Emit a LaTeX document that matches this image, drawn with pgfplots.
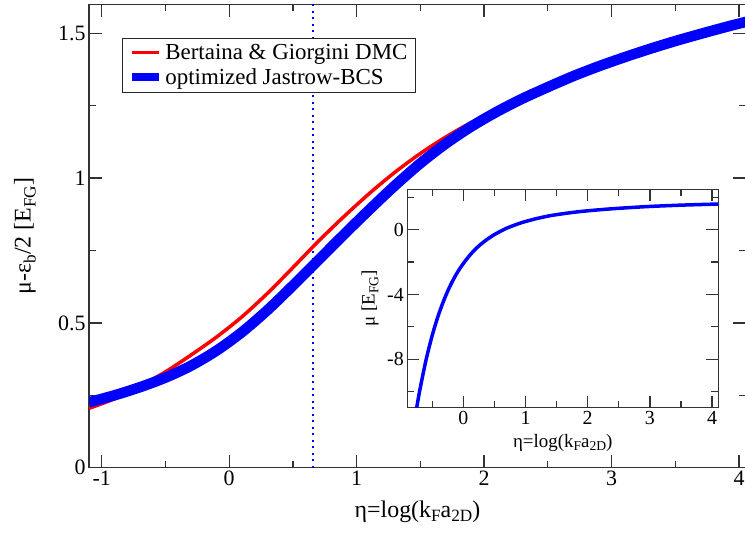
\documentclass[border=0pt]{standalone}
\usepackage{fontspec}
\setmainfont{Liberation Serif}
\usepackage{graphicx}
\usepackage{pgfplots}
\pgfplotsset{compat=1.18}
\newcommand{\sub}[1]{\raisebox{-0.45ex}{\scalebox{0.72}{#1}}}
\begin{document}
\begin{tikzpicture}
\useasboundingbox (0,0) rectangle (745bp,541bp);
\begin{axis}[
  at={(89bp,73.3bp)}, anchor=south west,
  scale only axis, width=657bp, height=463.4bp,
  xmin=-1.1, xmax=4.055, ymin=0, ymax=1.6,
  xtick={-1,0,1,2,3,4}, ytick={0,0.5,1,1.5},
  minor xtick={-0.5,0.5,1.5,2.5,3.5}, minor ytick={0.25,0.75,1.25},
  major tick length=13bp, minor tick length=7bp,
  tick align=inside,
  axis line style={black!80, line width=1.3bp},
  every tick/.style={black!80, line width=1.3bp},
  /pgf/number format/assume math mode=true,
  ticklabel style={font=\fontsize{22}{26}\selectfont},
  xlabel={η=log(k\sub{F}a\sub{2D})},
  ylabel={μ-ε\sub{b}/2 [E\sub{FG}]},
  every axis x label/.style={at={(axis description cs:0.5,-0.1064)}, anchor=base, font=\fontsize{24}{28}\selectfont},
  every axis y label/.style={at={(axis description cs:-0.0974,0.5)}, rotate=90, anchor=center, font=\fontsize{24}{28}\selectfont},
  legend style={at={(axis description cs:0.0502,0.928)}, anchor=north west,
    draw=black!85, line width=0.8bp, font=\fontsize{23}{27}\selectfont,
    inner xsep=6bp, inner ysep=4bp, row sep=4bp},
  legend cell align=left,
]
\addplot[blue, line width=2bp, dash pattern=on 2bp off 4.5bp, forget plot] coordinates {(0.656,0) (0.656,1.6)};
\addplot[red, line width=3.5bp, smooth, legend image code/.code={\draw[red, line width=3.5bp] (0bp,0bp) -- (27bp,0bp);}] coordinates {
(-1.10,0.205) (-0.90,0.238) (-0.70,0.282) (-0.50,0.331) (-0.30,0.389) (-0.10,0.451)
(0.10,0.521) (0.30,0.602) (0.50,0.691) (0.70,0.782) (0.90,0.867) (1.10,0.947)
(1.30,1.020) (1.50,1.085) (1.70,1.142) (1.90,1.192) (2.10,1.233) (2.30,1.272)
(2.50,1.309) (2.70,1.346) (2.90,1.379) (3.10,1.410) (3.30,1.439) (3.50,1.466)
(3.70,1.491) (3.90,1.515) (4.06,1.533)};
\addlegendentry{Bertaina \& Giorgini DMC}
\addplot[blue, line width=10.5bp, smooth, legend image code/.code={\draw[blue, line width=8bp] (0bp,0bp) -- (27bp,0bp);}] coordinates {
(-1.10,0.226) (-0.90,0.250) (-0.70,0.278) (-0.50,0.311) (-0.30,0.352) (-0.10,0.404)
(0.10,0.468) (0.30,0.544) (0.50,0.629) (0.70,0.717) (0.90,0.805) (1.10,0.891)
(1.30,0.974) (1.50,1.051) (1.70,1.119) (1.90,1.178) (2.10,1.229) (2.30,1.274)
(2.50,1.314) (2.70,1.352) (2.90,1.386) (3.10,1.417) (3.30,1.446) (3.50,1.473)
(3.70,1.498) (3.90,1.522) (4.06,1.540)};
\addlegendentry{optimized Jastrow-BCS}
\end{axis}
\begin{axis}[
  at={(407.3bp,133.3bp)}, anchor=south west,
  scale only axis, width=311bp, height=218.4bp,
  xmin=-0.9, xmax=4.1, ymin=-11, ymax=2.5,
  xtick={0,1,2,3,4}, ytick={-8,-4,0},
  minor xtick={-0.5,0.5,1.5,2.5,3.5}, minor ytick={-10,-6,-2,2},
  major tick length=12bp, minor tick length=7bp,
  tick align=inside,
  axis background/.style={fill=white},
  axis line style={black!80, line width=1.3bp},
  every tick/.style={black!80, line width=1.3bp},
  /pgf/number format/assume math mode=true,
  ticklabel style={font=\fontsize{20}{24}\selectfont},
  xlabel={η=log(k\sub{F}a\sub{2D})},
  ylabel={μ [E\sub{FG}]},
  every axis x label/.style={at={(axis description cs:0.5,-0.18)}, anchor=base, font=\fontsize{19}{22}\selectfont},
  every axis y label/.style={at={(axis description cs:-0.12,0.5)}, rotate=90, anchor=center, font=\fontsize{19}{22}\selectfont},
]
\addplot[blue, line width=3.5bp, smooth] coordinates {
(-0.76,-11.25) (-0.70,-9.94) (-0.60,-8.07) (-0.50,-6.54) (-0.40,-5.28) (-0.30,-4.24)
(-0.20,-3.38) (-0.10,-2.67) (0.00,-2.09) (0.10,-1.60) (0.20,-1.18) (0.30,-0.84)
(0.40,-0.55) (0.50,-0.30) (0.60,-0.09) (0.70,0.10) (0.80,0.25) (0.90,0.39)
(1.00,0.51) (1.20,0.71) (1.40,0.87) (1.60,0.99) (1.80,1.09) (2.00,1.17)
(2.30,1.27) (2.60,1.35) (3.00,1.44) (3.50,1.52) (4.10,1.59)};
\end{axis}
\end{tikzpicture}
\end{document}
